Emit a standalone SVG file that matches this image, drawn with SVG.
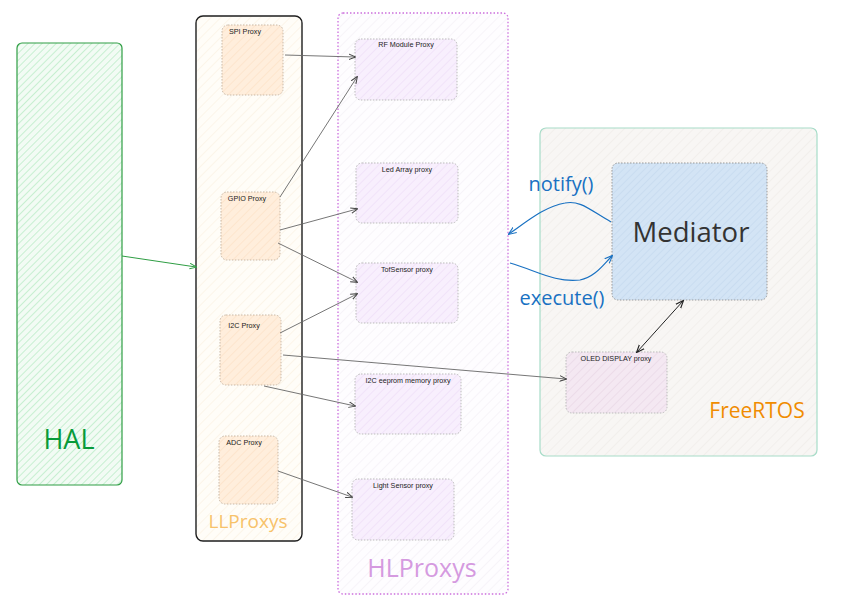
<svg xmlns="http://www.w3.org/2000/svg" width="851" height="605" viewBox="0 0 851 605">
<style>
.small{font-family:"Liberation Sans",sans-serif;font-size:7.2px;fill:#222;text-anchor:middle}
.ll{fill:url(#hOr);stroke:#c9b8a6;stroke-width:1;stroke-dasharray:1.5 1.5}
.hl{fill:url(#hPu);stroke:#bbb;stroke-width:1;stroke-dasharray:1.5 1.5}
.con{stroke:#666;stroke-width:0.9;fill:none;marker-end:url(#ah)}
.big{font-family:"Open Sans",Lato,sans-serif;text-anchor:middle}
</style>
<defs>
<pattern id="hGr" width="5" height="5" patternUnits="userSpaceOnUse" patternTransform="rotate(45)"><rect width="5" height="5" fill="#f2fbf4"/><line x1="0" y1="0" x2="0" y2="5" stroke="#b9ebc6" stroke-width="1.5"/></pattern>
<pattern id="hOr" width="6" height="6" patternUnits="userSpaceOnUse" patternTransform="rotate(45)"><rect width="6" height="6" fill="#ffeedc"/><line x1="0" y1="0" x2="0" y2="6" stroke="#fde3c8" stroke-width="1.5"/></pattern>
<pattern id="hLL" width="7" height="7" patternUnits="userSpaceOnUse" patternTransform="rotate(45)"><rect width="7" height="7" fill="#fffdf8"/><line x1="0" y1="0" x2="0" y2="7" stroke="#faf0e0" stroke-width="1.2"/></pattern>
<pattern id="hHL" width="7" height="7" patternUnits="userSpaceOnUse" patternTransform="rotate(45)"><rect width="7" height="7" fill="#fefdff"/><line x1="0" y1="0" x2="0" y2="7" stroke="#f3eef6" stroke-width="1.2"/></pattern>
<pattern id="hPu" width="6" height="6" patternUnits="userSpaceOnUse" patternTransform="rotate(45)"><rect width="6" height="6" fill="#f8effd"/><line x1="0" y1="0" x2="0" y2="6" stroke="#efe0f8" stroke-width="1.5"/></pattern>
<pattern id="hRt" width="7" height="7" patternUnits="userSpaceOnUse" patternTransform="rotate(45)"><rect width="7" height="7" fill="#f8f6f4"/><line x1="0" y1="0" x2="0" y2="7" stroke="#efebe8" stroke-width="1.2"/></pattern>
<pattern id="hBl" width="5" height="5" patternUnits="userSpaceOnUse" patternTransform="rotate(45)"><rect width="5" height="5" fill="#d3e4f5"/><line x1="0" y1="0" x2="0" y2="5" stroke="#c3d8ee" stroke-width="1.2"/></pattern>
<pattern id="hOl" width="6" height="6" patternUnits="userSpaceOnUse" patternTransform="rotate(45)"><rect width="6" height="6" fill="#f4e8f2"/><line x1="0" y1="0" x2="0" y2="6" stroke="#ead8e6" stroke-width="1.5"/></pattern>
<marker id="ah" viewBox="0 0 10 10" refX="9" refY="5" markerWidth="7" markerHeight="7" orient="auto-start-reverse" markerUnits="userSpaceOnUse"><path d="M0,1 L10,5 L0,9" fill="none" stroke="#444" stroke-width="1.4"/></marker>
<marker id="ahg" viewBox="0 0 10 10" refX="9" refY="5" markerWidth="7" markerHeight="7" orient="auto" markerUnits="userSpaceOnUse"><path d="M0,1 L10,5 L0,9" fill="none" stroke="#2f9e44" stroke-width="1.4"/></marker>
<marker id="ahb" viewBox="0 0 10 10" refX="9" refY="5" markerWidth="8" markerHeight="8" orient="auto" markerUnits="userSpaceOnUse"><path d="M0,1 L10,5 L0,9" fill="none" stroke="#1971c2" stroke-width="1.4"/></marker>
<marker id="ahk" viewBox="0 0 10 10" refX="9" refY="5" markerWidth="8" markerHeight="8" orient="auto-start-reverse" markerUnits="userSpaceOnUse"><path d="M0,1 L10,5 L0,9" fill="none" stroke="#222" stroke-width="1.4"/></marker>
</defs>
<rect width="851" height="605" fill="#ffffff"/>

<g id="hal">
<rect x="17" y="43" width="105" height="442" rx="5" fill="url(#hGr)" stroke="#2f9e44" stroke-width="1.2"/>
<text class="big" x="69" y="449" font-size="27" fill="#099a3a">HAL</text>
</g>

<g id="llproxys">
<rect x="196" y="16" width="106" height="525" rx="7" fill="url(#hLL)" stroke="#1e1e1e" stroke-width="1.4"/>
<text class="big" x="248" y="528" font-size="19" fill="#f7c26a">LLProxys</text>
</g>

<g id="hlproxys">
<rect x="338" y="13" width="170" height="581" rx="5" fill="url(#hHL)" stroke="#cc6fdd" stroke-width="1.3" stroke-dasharray="1.5 2"/>
<text class="big" x="422" y="577" font-size="25" fill="#d59ae0">HLProxys</text>
</g>

<g id="freertos">
<rect x="540" y="128" width="277" height="328" rx="6" fill="url(#hRt)" stroke="#a7dcc8" stroke-width="1.2"/>
<text class="big" x="757" y="418" font-size="21" fill="#f08c00">FreeRTOS</text>
</g>

<g id="spi"><rect class="ll" x="222" y="25" width="61" height="70" rx="6"/><text class="small" x="245" y="34">SPI Proxy</text></g>
<g id="gpio"><rect class="ll" x="221" y="192" width="59" height="68" rx="6"/><text class="small" x="247" y="201">GPIO Proxy</text></g>
<g id="i2c"><rect class="ll" x="220" y="315" width="61" height="70" rx="6"/><text class="small" x="244" y="328">I2C Proxy</text></g>
<g id="adc"><rect class="ll" x="219" y="436" width="59" height="68" rx="6"/><text class="small" x="244" y="445">ADC Proxy</text></g>

<g id="rf"><rect class="hl" x="355" y="39" width="102" height="61" rx="6"/><text class="small" x="406" y="47">RF Module Proxy</text></g>
<g id="led"><rect class="hl" x="356" y="163" width="102" height="60" rx="6"/><text class="small" x="407" y="172">Led Array proxy</text></g>
<g id="tof"><rect class="hl" x="356" y="263" width="102" height="60" rx="6"/><text class="small" x="407" y="272">TofSensor proxy</text></g>
<g id="eeprom"><rect class="hl" x="355" y="374" width="106" height="60" rx="6"/><text class="small" x="408" y="383">I2C eeprom memory proxy</text></g>
<g id="light"><rect class="hl" x="352" y="479" width="102" height="61" rx="6"/><text class="small" x="403" y="488">Light Sensor proxy</text></g>

<g id="mediator"><rect x="612" y="163" width="155" height="137" rx="6" fill="url(#hBl)" stroke="#999" stroke-width="1" stroke-dasharray="1.5 1.5"/><text class="big" x="691" y="242" font-size="27.5" fill="#333">Mediator</text></g>
<g id="oled"><rect x="566" y="352" width="101" height="61" rx="6" fill="url(#hOl)" stroke="#bbb" stroke-width="1" stroke-dasharray="1.5 1.5"/><text class="small" x="616" y="361">OLED DISPLAY proxy</text></g>

<g id="connectors">
<line x1="122" y1="256" x2="196" y2="267" stroke="#2f9e44" stroke-width="1" marker-end="url(#ahg)"/>
<line class="con" x1="285" y1="55" x2="355" y2="57"/>
<line class="con" x1="280" y1="197" x2="357" y2="77"/>
<line class="con" x1="280" y1="230" x2="357" y2="209"/>
<line class="con" x1="278" y1="243" x2="357" y2="282"/>
<line class="con" x1="280" y1="333" x2="357" y2="294"/>
<line class="con" x1="283" y1="355" x2="566" y2="379"/>
<line class="con" x1="264" y1="386" x2="355" y2="406"/>
<line class="con" x1="278" y1="471" x2="352" y2="497"/>
<path d="M611,222 C590,210 580,200 565,203 C545,206 525,223 509,234" fill="none" stroke="#1971c2" stroke-width="1.2" marker-end="url(#ahb)"/>
<path d="M510,263 C535,270 555,283 580,280 C595,277 603,265 612,256" fill="none" stroke="#1971c2" stroke-width="1.2" marker-end="url(#ahb)"/>
<line x1="637" y1="352" x2="683" y2="301" stroke="#222" stroke-width="1" marker-start="url(#ahk)" marker-end="url(#ahk)"/>
<text class="big" x="561" y="191" font-size="20" fill="#1971c2">notify()</text>
<text class="big" x="562" y="305" font-size="20" fill="#1971c2">execute()</text>
</g>
</svg>
